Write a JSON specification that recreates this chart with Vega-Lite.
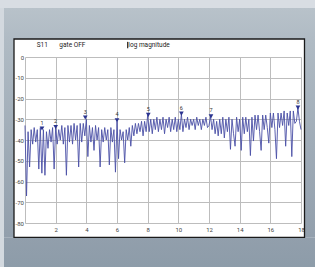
{
  "$schema": "https://vega.github.io/schema/vega-lite/v6.json",
  "width": 276,
  "height": 166,
  "autosize": {"type": "none"},
  "padding": {"left": 25, "top": 57, "right": 14, "bottom": 44},
  "background": "#ffffff",
  "config": {"view": {"stroke": null}, "font": "Roboto"},
  "datasets": {
    "trace": [
      {"f":0.0,"db":-33},{"f":0.1,"db":-67},{"f":0.2,"db":-36},{"f":0.3,"db":-53},{"f":0.4,"db":-35},{"f":0.5,"db":-42},{"f":0.6,"db":-34},{"f":0.7,"db":-41},{"f":0.8,"db":-35},{"f":0.9,"db":-54},
      {"f":1.0,"db":-34},{"f":1.1,"db":-56},{"f":1.2,"db":-35},{"f":1.3,"db":-57},{"f":1.4,"db":-36},{"f":1.5,"db":-44},{"f":1.6,"db":-35},{"f":1.7,"db":-41},{"f":1.8,"db":-34},{"f":1.9,"db":-54},
      {"f":2.0,"db":-34},{"f":2.1,"db":-42},{"f":2.2,"db":-35},{"f":2.3,"db":-40},{"f":2.4,"db":-33},{"f":2.5,"db":-42},{"f":2.6,"db":-34},{"f":2.7,"db":-57},{"f":2.8,"db":-33},{"f":2.9,"db":-41},
      {"f":3.0,"db":-33},{"f":3.1,"db":-42},{"f":3.2,"db":-32},{"f":3.3,"db":-40},{"f":3.4,"db":-33},{"f":3.5,"db":-53},{"f":3.6,"db":-32},{"f":3.7,"db":-41},{"f":3.8,"db":-32},{"f":3.9,"db":-38},
      {"f":4.0,"db":-30},{"f":4.1,"db":-48},{"f":4.2,"db":-33},{"f":4.3,"db":-41},{"f":4.4,"db":-34},{"f":4.5,"db":-45},{"f":4.6,"db":-33},{"f":4.7,"db":-40},{"f":4.8,"db":-34},{"f":4.9,"db":-53},
      {"f":5.0,"db":-35},{"f":5.1,"db":-41},{"f":5.2,"db":-34},{"f":5.3,"db":-40},{"f":5.4,"db":-35},{"f":5.5,"db":-52},{"f":5.6,"db":-34},{"f":5.7,"db":-41},{"f":5.8,"db":-35},{"f":5.9,"db":-55.5},
      {"f":6.0,"db":-31},{"f":6.1,"db":-49},{"f":6.2,"db":-35},{"f":6.3,"db":-40},{"f":6.4,"db":-36},{"f":6.5,"db":-51},{"f":6.6,"db":-35},{"f":6.7,"db":-40},{"f":6.8,"db":-34},{"f":6.9,"db":-43},
      {"f":7.0,"db":-33},{"f":7.1,"db":-38},{"f":7.2,"db":-32},{"f":7.3,"db":-37},{"f":7.4,"db":-32},{"f":7.5,"db":-36},{"f":7.6,"db":-31},{"f":7.7,"db":-38},{"f":7.8,"db":-31},{"f":7.9,"db":-36},
      {"f":8.0,"db":-28},{"f":8.1,"db":-36},{"f":8.2,"db":-30},{"f":8.3,"db":-37},{"f":8.4,"db":-30},{"f":8.5,"db":-35},{"f":8.6,"db":-29},{"f":8.7,"db":-36},{"f":8.8,"db":-30},{"f":8.9,"db":-35},
      {"f":9.0,"db":-29},{"f":9.1,"db":-37},{"f":9.2,"db":-30},{"f":9.3,"db":-34},{"f":9.4,"db":-29},{"f":9.5,"db":-36},{"f":9.6,"db":-30},{"f":9.7,"db":-35},{"f":9.8,"db":-29},{"f":9.9,"db":-36},
      {"f":10.0,"db":-30},{"f":10.1,"db":-35},{"f":10.2,"db":-27.5},{"f":10.3,"db":-36},{"f":10.4,"db":-30},{"f":10.5,"db":-34},{"f":10.6,"db":-29},{"f":10.7,"db":-35},{"f":10.8,"db":-30},{"f":10.9,"db":-33},
      {"f":11.0,"db":-30},{"f":11.1,"db":-35},{"f":11.2,"db":-29},{"f":11.3,"db":-33},{"f":11.4,"db":-30},{"f":11.5,"db":-35},{"f":11.6,"db":-30},{"f":11.7,"db":-33},{"f":11.8,"db":-29},{"f":11.9,"db":-34},
      {"f":12.0,"db":-33},{"f":12.1,"db":-28.6},{"f":12.2,"db":-35},{"f":12.3,"db":-30},{"f":12.4,"db":-37},{"f":12.5,"db":-31},{"f":12.6,"db":-38},{"f":12.7,"db":-30},{"f":12.8,"db":-37},{"f":12.9,"db":-29},
      {"f":13.0,"db":-39},{"f":13.1,"db":-30},{"f":13.2,"db":-36},{"f":13.3,"db":-29},{"f":13.4,"db":-44.5},{"f":13.5,"db":-30},{"f":13.6,"db":-37},{"f":13.7,"db":-43},{"f":13.8,"db":-29},{"f":13.9,"db":-36},
      {"f":14.0,"db":-30},{"f":14.1,"db":-45},{"f":14.2,"db":-29},{"f":14.3,"db":-37},{"f":14.4,"db":-29},{"f":14.5,"db":-36},{"f":14.6,"db":-30},{"f":14.7,"db":-47.5},{"f":14.8,"db":-29},{"f":14.9,"db":-40.5},
      {"f":15.0,"db":-28},{"f":15.1,"db":-35},{"f":15.2,"db":-28},{"f":15.3,"db":-36},{"f":15.4,"db":-45},{"f":15.5,"db":-28},{"f":15.6,"db":-35},{"f":15.7,"db":-28},{"f":15.8,"db":-34},{"f":15.9,"db":-41.5},
      {"f":16.0,"db":-27},{"f":16.1,"db":-34},{"f":16.2,"db":-27},{"f":16.3,"db":-35},{"f":16.4,"db":-49},{"f":16.5,"db":-27},{"f":16.6,"db":-34},{"f":16.7,"db":-27},{"f":16.8,"db":-33},{"f":16.9,"db":-26},
      {"f":17.0,"db":-43},{"f":17.1,"db":-27},{"f":17.2,"db":-33},{"f":17.3,"db":-26},{"f":17.4,"db":-48},{"f":17.5,"db":-26},{"f":17.6,"db":-32},{"f":17.7,"db":-31},{"f":17.8,"db":-24.5},{"f":17.9,"db":-31},
      {"f":18.0,"db":-35}
    ],
    "markers": [
      {"f":1.11,"db":-34.5,"n":"1"},{"f":2.0,"db":-33.7,"n":"2"},{"f":3.93,"db":-29.2,"n":"3"},{"f":6.0,"db":-30.5,"n":"4"},
      {"f":8.04,"db":-27.9,"n":"5"},{"f":10.2,"db":-27.3,"n":"6"},{"f":12.13,"db":-28.6,"n":"7"},{"f":17.8,"db":-24.4,"n":"8"}
    ]
  },
  "encoding": {
    "x": {"type":"quantitative","scale":{"domain":[0,18],"nice":false,"zero":false},
          "axis":{"title":null,"values":[0,2,4,6,8,10,12,14,16,18],"labelExpr":"datum.value == 0 ? '' : '' + datum.value","grid":true,"gridColor":"#bdbdbd","gridWidth":1,"domain":false,"ticks":false,"labelPadding":3,"labelFontSize":6,"labelColor":"#444444","labelFlush":false}},
    "y": {"type":"quantitative","scale":{"domain":[-80,0],"nice":false,"zero":false},
          "axis":{"title":null,"values":[0,-10,-20,-30,-40,-50,-60,-70,-80],"labelExpr":"'' + datum.value","grid":true,"gridColor":"#bdbdbd","gridWidth":1,"domain":false,"ticks":false,"labelPadding":1.5,"labelFontSize":6,"labelColor":"#444444"}}
  },
  "layer": [
    {"data":{"name":"trace"},
     "mark":{"type":"line","color":"#4a50a6","strokeWidth":1,"opacity":0.9},
     "encoding":{"x":{"field":"f"},"y":{"field":"db"}}},
    {"data":{"values":[{}]},"mark":{"type":"rect","fill":"#d8dde3"},
     "encoding":{"x":{"datum":-3},"x2":{"datum":20},"y":{"datum":40},"y2":{"datum":23.61}}},
    {"data":{"values":[{}]},"mark":{"type":"rect","fill":"#d3d9df"},
     "encoding":{"x":{"datum":-3},"x2":{"datum":-1.37},"y":{"datum":23.61},"y2":{"datum":-110}}},
    {"data":{"values":[{}]},"mark":{"type":"rect","fill":{"gradient":"linear","x1":0,"y1":0,"x2":0,"y2":1,"stops":[{"offset":0,"color":"#b8c2ca"},{"offset":1,"color":"#b0bbc4"}]}},
     "encoding":{"x":{"datum":-1.37},"x2":{"datum":20},"y":{"datum":23.61},"y2":{"datum":8.675}}},
    {"data":{"values":[{}]},"mark":{"type":"rect","fill":{"gradient":"linear","x1":0,"y1":0,"x2":0,"y2":1,"stops":[{"offset":0,"color":"#929fac"},{"offset":1,"color":"#8a9aa7"}]}},
     "encoding":{"x":{"datum":-1.37},"x2":{"datum":20},"y":{"datum":-86.89},"y2":{"datum":-110}}},
    {"data":{"values":[{}]},"mark":{"type":"rect","fill":{"gradient":"linear","x1":0,"y1":0,"x2":0,"y2":1,"stops":[{"offset":0,"color":"#b0bbc4"},{"offset":1,"color":"#929fac"}]}},
     "encoding":{"x":{"datum":-1.37},"x2":{"datum":-0.717},"y":{"datum":8.675},"y2":{"datum":-86.89}}},
    {"data":{"values":[{}]},"mark":{"type":"rect","fill":{"gradient":"linear","x1":0,"y1":0,"x2":0,"y2":1,"stops":[{"offset":0,"color":"#b0bbc4"},{"offset":1,"color":"#929fac"}]}},
     "encoding":{"x":{"datum":18.228},"x2":{"datum":20},"y":{"datum":8.675},"y2":{"datum":-86.89}}},
    {"data":{"values":[{}]},"mark":{"type":"rect","filled":false,"stroke":"#1a1a1a","strokeWidth":1.3,"opacity":1},
     "encoding":{"x":{"datum":-0.717},"x2":{"datum":18.228},"y":{"datum":8.675},"y2":{"datum":-86.89}}},
    {"data":{"name":"markers"},
     "mark":{"type":"point","shape":"triangle-down","filled":true,"color":"#2b3490","size":22,"opacity":1},
     "encoding":{"x":{"field":"f"},"y":{"field":"db"}}},
    {"data":{"name":"markers"},
     "mark":{"type":"text","fontSize":5.5,"color":"#333333","dy":-6,"baseline":"middle"},
     "encoding":{"x":{"field":"f"},"y":{"field":"db"},"text":{"field":"n"}}},
    {"data":{"values":[{}]},"mark":{"type":"text","text":"S11","align":"left","baseline":"middle","fontSize":6.5,"color":"#222222"},
     "encoding":{"x":{"datum":0.76},"y":{"datum":5.78}}},
    {"data":{"values":[{}]},"mark":{"type":"text","text":"gate OFF","align":"left","baseline":"middle","fontSize":6.5,"color":"#222222"},
     "encoding":{"x":{"datum":2.24},"y":{"datum":5.78}}},
    {"data":{"values":[{}]},"mark":{"type":"text","text":"log magnitude","align":"left","baseline":"middle","fontSize":6.5,"color":"#222222"},
     "encoding":{"x":{"datum":6.74},"y":{"datum":5.78}}},
    {"data":{"values":[{}]},"mark":{"type":"rule","color":"#000000","strokeWidth":1},
     "encoding":{"x":{"datum":6.70},"y":{"datum":7.3},"y2":{"datum":4.2}}}
  ]
}
